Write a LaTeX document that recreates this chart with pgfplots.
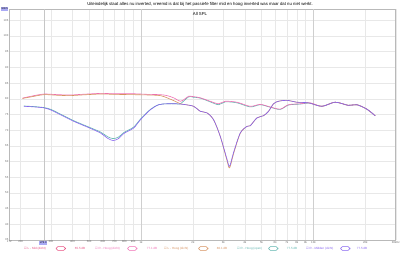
\documentclass[border=0pt]{standalone}
\usepackage{fontspec}
\setmainfont{Liberation Sans}
\newfontfamily\symfont{DejaVu Sans}
\usepackage{pgfplots}
\usepackage{pgfplotstable}
\pgfplotsset{compat=1.18}

\definecolor{cpinkA}{RGB}{232,80,130}
\definecolor{cpink}{RGB}{240,110,180}
\definecolor{corange}{RGB}{215,145,95}
\definecolor{cteal}{RGB}{95,180,175}
\definecolor{cpurple}{RGB}{135,100,240}
\definecolor{cbox}{RGB}{170,170,245}

\pgfplotstableread{
f db
205 80.2
230 80.8
273 81.5
330 81.3
389 81.2
450 81.4
581 81.7
700 81.6
850 81.6
906 81.6
1000 81.5
1100 81.4
1294 81.3
1415 81.0
1545 80.3
1690 79.2
1800 80.0
1887 80.8
2000 80.7
2206 80.3
2520 79.2
2816 78.4
3078 79.2
3599 78.9
4298 77.6
4911 78.2
5612 77.4
6414 76.7
7166 78.1
8373 78.4
9570 78.7
11190 77.6
13360 78.9
15950 77.9
17840 78.1
20390 76.7
22780 74.6
}\pinkdata

\pgfplotstableread{
f db
205 80.1
230 80.6
273 81.3
330 81.1
389 81.0
450 81.2
581 81.5
700 81.4
906 81.3
1100 81.2
1294 81.0
1415 80.3
1545 79.4
1617 78.9
1690 78.4
1765 78.2
2018 77.6
2206 76.0
2412 75.5
2634 73.3
2880 68.0
3149 60.4
3262 58.0
3440 62.5
3762 69.0
4113 71.2
4298 71.4
4699 73.9
5132 74.6
5486 76.0
5867 78.4
6270 79.2
7014 79.5
8014 78.9
9355 78.7
11190 77.6
13360 78.9
15950 77.9
17840 78.1
20390 76.7
22780 74.6
}\orangedata

\pgfplotstableread{
f db
209 77.7
240 77.5
273 77.2
300 76.6
341 75.1
407 73.0
487 71.2
581 69.4
640 67.9
688 67.3
740 67.8
793 69.2
906 71.0
991 73.5
1132 76.6
1265 78.1
1415 78.4
1600 78.4
1690 78.4
1887 80.6
2000 80.5
2206 80.2
2520 79.0
2816 78.1
3078 79.0
3599 78.7
4298 77.4
4911 78.1
5612 77.3
6414 76.6
7166 78.0
8373 78.3
9570 78.6
11190 77.6
13360 78.9
15950 77.9
17840 78.1
20390 76.7
22780 74.6
}\tealdata

\pgfplotstableread{
f db
209 77.6
240 77.4
273 77.1
300 76.4
341 74.9
407 72.8
487 71.0
581 69.1
640 67.4
688 66.7
740 67.3
793 68.9
906 70.7
991 73.3
1132 76.5
1265 78.1
1415 78.4
1600 78.4
1765 78.2
2018 77.6
2206 76.0
2412 75.5
2634 73.3
2880 68.0
3149 60.8
3262 58.5
3440 62.9
3762 69.1
4113 71.2
4298 71.4
4699 73.9
5132 74.6
5486 76.0
5867 78.4
6270 79.2
7014 79.5
8014 78.9
9355 78.7
11190 77.6
13360 78.9
15950 77.9
17840 78.1
20390 76.7
22780 74.6
}\purpledata

\begin{document}
\begin{tikzpicture}[x=1bp,y=1bp]
\useasboundingbox (0,0) rectangle (400,253);
\fill[white] (0,0) rectangle (400,253);
\begin{axis}[
  at={(9.3bp,13bp)}, anchor=south west,
  scale only axis, width=386.4bp, height=230.7bp,
  xmode=log, xmin=172, xmax=30000, ymin=35, ymax=108.5,
  axis line style={gray!55, line width=0.5bp},
  major tick length=0pt,
  grid=major,
  major grid style={gray!18, line width=0.4bp},
  xtick={172,200,300,400,500,600,700,800,900,1000,2000,3000,4000,5000,6000,7000,8000,9000,10000,20000,30000},
  xticklabels={172,200,300,400,500,600,700,800,900,1k,2k,3k,4k,5k,6k,7k,8k,9k,10k,20k,30kHz},
  ytick={35,40,...,105},
  extra x ticks={1000,10000},
  extra x tick labels={},
  extra x tick style={major grid style={gray!38, line width=0.5bp}},
  /pgf/number format/assume math mode=true,
  tick label style={font=\fontsize{2.8}{3}\selectfont, text=black!60, inner sep=0.8bp},
  clip=true,
]
\draw[gray!45, line width=0.9bp] (axis cs:275,35) -- (axis cs:275,108.5);
\addplot[cteal, line width=0.6bp, smooth] table[x=f,y=db]{\tealdata};
\addplot[cpink, line width=0.6bp, smooth] table[x=f,y=db]{\pinkdata};
\addplot[corange, line width=0.6bp, smooth] table[x=f,y=db]{\orangedata};
\addplot[cpurple, line width=0.6bp, smooth] table[x=f,y=db]{\purpledata};
\end{axis}
% title and subtitle
\node[font=\fontsize{4.3}{5}\selectfont] at (200,248.5) {Uiteindelijk staat alles nu inverted, vreemd is dat bij het passiefe filter mid en hoog inverted was maar dat nu niet werkt.};
\node[font=\fontsize{4.3}{5}\selectfont] at (200,239.5) {All SPL};
% cursor boxes
\node[fill=cbox, inner sep=0.6bp, font=\fontsize{2.6}{3}\selectfont] at (4.5,244) {108.5};
\node[fill=cbox, inner sep=0.6bp, font=\fontsize{2.6}{3}\selectfont] at (43.3,10) {275.0};
% legend
\begin{scope}[every node/.style={font=\fontsize{3}{3.5}\selectfont, inner sep=0pt}]
\node[anchor=west, text=cpinkA] at (24,4.5) {{\symfont ☑} L - Mid (dicht)};
\draw[cpinkA, line width=0.5bp, rounded corners=1.8bp] (56,2.7) rectangle (65.5,6.3);
\node[text=cpinkA] at (80,4.5) {65.5 dB};
\node[anchor=west, text=cpink] at (95,4.5) {{\symfont ☑} R - Hoog (dicht)};
\draw[cpink, line width=0.5bp, rounded corners=1.8bp] (127.5,2.7) rectangle (137,6.3);
\node[text=cpink] at (152,4.5) {77.1 dB};
\node[anchor=west, text=corange] at (164,4.5) {{\symfont ☑} L - Hoog (dicht)};
\draw[corange, line width=0.5bp, rounded corners=1.8bp] (198.5,2.7) rectangle (208,6.3);
\node[text=corange] at (222,4.5) {80.1 dB};
\node[anchor=west, text=cteal] at (237,4.5) {{\symfont ☑} R - Hoog (open)};
\draw[cteal, line width=0.5bp, rounded corners=1.8bp] (268.5,2.7) rectangle (278,6.3);
\node[text=cteal] at (292,4.5) {77.5 dB};
\node[anchor=west, text=cpurple] at (306,4.5) {{\symfont ☑} R - Midden (dicht)};
\draw[cpurple, line width=0.5bp, rounded corners=1.8bp] (340.5,2.7) rectangle (350,6.3);
\node[text=cpurple] at (362,4.5) {77.5 dB};
\end{scope}
\end{tikzpicture}
\end{document}
